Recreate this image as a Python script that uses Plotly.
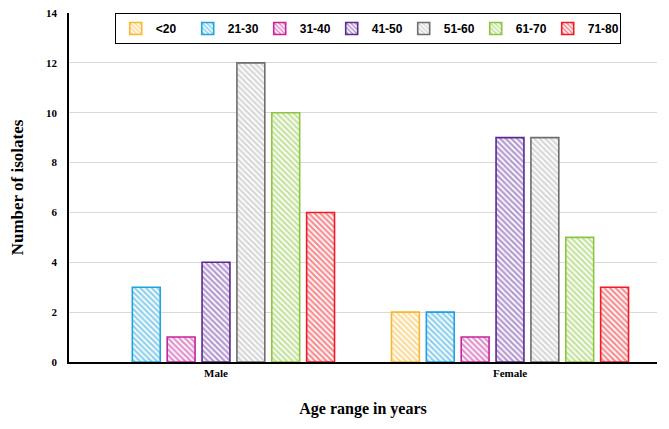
import plotly.graph_objects as go

categories = ["Male", "Female"]
age_groups = ["<20", "21-30", "31-40", "41-50", "51-60", "61-70", "71-80"]
male_values = [0, 3, 1, 4, 12, 10, 6]
female_values = [2, 2, 1, 9, 9, 5, 3]
pattern_colors = ["#F7B733", "#1FA3DD", "#C4259B", "#6A35A0", "#B0B0B0", "#8CC63F", "#EE1C24"]
line_colors = ["#F7B733", "#1FA3DD", "#C4259B", "#5A2A90", "#6E6E6E", "#8CC63F", "#EE1C24"]

fig = go.Figure()
for i, g in enumerate(age_groups):
    vals = [male_values[i], female_values[i]]
    # zero-count bars are not drawn at all in the original chart
    plot_vals = [v if v != 0 else None for v in vals]
    fig.add_trace(go.Bar(
        name=g,
        x=categories,
        y=plot_vals,
        marker=dict(
            color="white",
            line=dict(color=line_colors[i], width=1.6),
            pattern=dict(shape="\\", fgcolor=pattern_colors[i], bgcolor="white",
                         size=4, solidity=0.55, fillmode="overlay"),
        ),
    ))

serif = "Liberation Serif"
fig.update_layout(
    width=661, height=421,
    margin=dict(l=61, r=12, t=5, b=67),
    paper_bgcolor="white", plot_bgcolor="white",
    barmode="group", bargap=0.17, bargroupgap=0.2,
    showlegend=True,
    legend=dict(
        orientation="h", x=0.508, xanchor="center", y=1.0, yanchor="top",
        bordercolor="black", borderwidth=1, bgcolor="white",
        font=dict(family="Liberation Sans", size=12, color="black", weight="bold"),
        entrywidth=27, entrywidthmode="pixels",
        itemwidth=30, tracegroupgap=0,
    ),
    xaxis=dict(
        showline=True, linecolor="black", linewidth=1.5,
        tickfont=dict(family=serif, size=11, color="black", weight="bold"),
        title=dict(text="Age range in years", font=dict(family=serif, size=16, color="black", weight="bold"), standoff=25),
        ticks="", automargin=False,
    ),
    yaxis=dict(
        range=[0, 14], dtick=2,
        showline=True, linecolor="black", linewidth=1.5,
        showgrid=True, gridcolor="#D9D9D9", gridwidth=1,
        zeroline=False, automargin=False, ticklabeloverflow="allow",
        tickfont=dict(family=serif, size=11, color="black", weight="bold"),
        ticks="", ticklabelstandoff=8,
        title=dict(text="Number of isolates", font=dict(family=serif, size=17, color="black", weight="bold"), standoff=22),
    ),
)

fig.write_html("out.html")
